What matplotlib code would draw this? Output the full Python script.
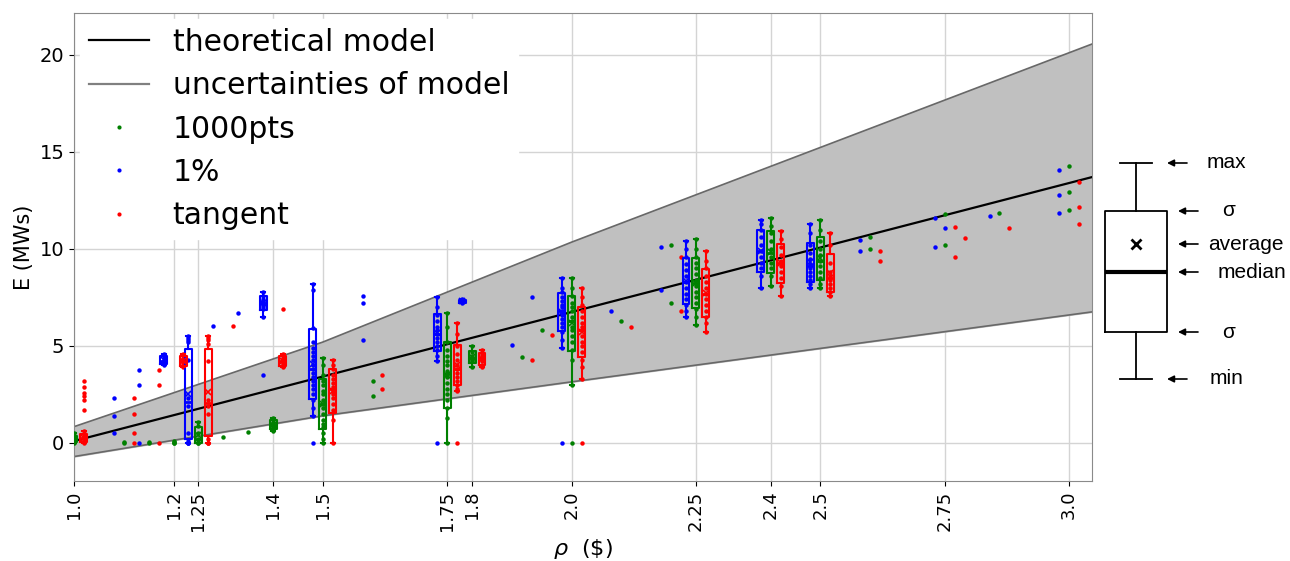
import numpy as np
import matplotlib.pyplot as plt
from matplotlib.lines import Line2D

# theoretical model and its uncertainty band
rho_model = [1.0, 3.05]
E_model = [0.1, 13.73]
rho_band = [1.0, 1.5, 2.0, 3.05]
E_upper = [0.84, 5.2, 10.35, 20.6]
E_lower = [-0.7, 1.4, 3.15, 6.77]

xtick_vals = [1.0, 1.2, 1.25, 1.4, 1.5, 1.75, 1.8, 2.0, 2.25, 2.4, 2.5, 2.75, 3.0]
xtick_labels = ['1.0', '1.2', '1.25', '1.4', '1.5', '1.75', '1.8', '2.0',
                '2.25', '2.4', '2.5', '2.75', '3.0']

# measured energies per rho, one dict per evaluation method
E_1000pts = {
    1.0: [0.5, 0.35, 0.2, 0.1, 0.05, 0.0],
    1.1: [0.05, 0.0],
    1.15: [0.05, 0.0],
    1.2: [0.1, 0.05, 0.0, 0.0],
    1.25: [1.1, 0.9, 0.5, 0.2, 0.1, 0.0, 0.0],
    1.3: [0.3],
    1.35: [0.55],
    1.4: [1.3, 1.1, 1.0, 0.9, 0.8, 0.6],
    1.5: [4.4, 4.0, 3.5, 3.2, 3.0, 2.7, 2.5, 2.2, 2.0, 1.8, 1.5, 1.2, 1.0, 0.8, 0.5, 0.2, 0.0],
    1.6: [3.2, 2.4],
    1.75: [6.7, 6.0, 5.2, 4.8, 4.5, 4.2, 4.0, 3.7, 3.4, 3.1, 2.8, 2.5, 2.2, 1.8, 1.3, 0.0],
    1.8: [5.0, 4.7, 4.5, 4.4, 4.3, 4.2, 3.9],
    1.9: [4.45],
    1.94: [5.8],
    2.0: [8.5, 8.0, 7.6, 7.2, 7.0, 6.8, 6.5, 6.3, 6.0, 5.8, 5.5, 5.2, 4.8, 4.3, 3.0],
    2.1: [6.3],
    2.2: [10.2, 7.2],
    2.25: [10.5, 10.0, 9.6, 9.3, 9.0, 8.7, 8.4, 8.1, 7.8, 7.5, 7.2, 6.9, 6.5, 6.1],
    2.4: [11.6, 11.2, 10.8, 10.4, 10.0, 9.6, 9.3, 9.0, 8.6, 8.1],
    2.5: [11.5, 11.0, 10.4, 10.0, 9.7, 9.4, 9.1, 8.8, 8.5, 8.2, 8.0],
    2.6: [10.6, 10.0],
    2.75: [11.8, 10.2],
    2.86: [11.87],
    3.0: [14.28, 12.92, 12.0],
}
E_1pct = {
    1.1: [2.3, 1.4, 0.5],
    1.15: [3.76, 3.0, 0.0],
    1.2: [4.6, 4.45, 4.3, 4.2, 4.1, 4.0],
    1.25: [5.5, 5.4, 5.3, 5.2, 4.3, 2.3, 1.9, 0.5, 0.1, 0.0, 0.0, 0.0],
    1.3: [6.05],
    1.35: [6.68],
    1.4: [7.8, 7.6, 7.4, 7.3, 7.2, 7.1, 7.0, 6.9, 6.5],
    1.5: [8.2, 7.9, 5.9, 5.2, 4.9, 4.7, 4.5, 4.3, 4.0, 3.8, 3.6, 3.4, 3.2, 3.0, 2.8, 2.5, 2.2, 1.8, 1.4],
    1.6: [7.6, 7.2, 5.3],
    1.75: [7.5, 7.0, 6.6, 6.3, 6.0, 5.8, 5.6, 5.4, 5.2, 5.0, 4.8, 4.5, 4.2],
    1.8: [7.4, 7.35, 7.3, 7.25, 7.2],
    1.9: [5.05],
    1.94: [7.5],
    2.0: [8.5, 8.0, 7.8, 7.5, 7.3, 7.1, 7.0, 6.8, 6.6, 6.4, 6.2, 6.0, 5.7, 5.3, 4.9],
    2.1: [6.8],
    2.2: [10.1, 7.9],
    2.25: [10.4, 10.0, 9.6, 9.2, 8.9, 8.6, 8.3, 8.0, 7.7, 7.4, 7.1, 6.8, 6.5],
    2.4: [11.5, 11.3, 11.0, 10.6, 10.2, 9.9, 9.6, 9.3, 9.0, 8.6, 8.0],
    2.5: [11.3, 10.8, 10.2, 9.8, 9.5, 9.2, 9.0, 8.8, 8.6, 8.4, 8.2, 8.0],
    2.6: [10.46, 9.9],
    2.75: [11.6, 10.1],
    2.77: [11.07],
    2.86: [11.7],
    3.0: [14.07, 12.78, 11.87],
}
E_tangent = {
    1.0: [0.6, 0.45, 0.35, 0.25, 0.15, 0.05, 0.0],
    1.1: [2.3, 1.5, 0.5, 0.0],
    1.15: [3.76, 3.0, 0.0],
    1.2: [4.6, 4.4, 4.3, 4.1, 4.0, 3.9],
    1.25: [5.5, 5.4, 5.3, 5.1, 4.2, 2.2, 1.9, 1.5, 0.2, 0.0, 0.0, 0.0],
    1.3: [6.05],
    1.4: [4.6, 4.4, 4.3, 4.1, 4.0, 3.9],
    1.5: [4.3, 4.0, 3.8, 3.5, 3.3, 3.1, 2.9, 2.7, 2.5, 2.3, 2.0, 1.7, 1.2, 0.0],
    1.6: [3.5, 2.8],
    1.75: [6.2, 5.6, 5.0, 4.6, 4.3, 4.0, 3.8, 3.6, 3.4, 3.2, 3.0, 2.8, 2.7],
    1.8: [4.8, 4.6, 4.5, 4.4, 4.2, 4.0, 3.9],
    1.9: [4.3],
    1.94: [5.55],
    2.0: [8.0, 7.5, 7.1, 6.8, 6.5, 6.2, 6.0, 5.8, 5.5, 5.2, 5.0, 4.7, 4.3, 3.9, 3.3],
    2.1: [6.0],
    2.2: [9.6, 6.8],
    2.25: [9.9, 9.4, 9.0, 8.6, 8.3, 8.0, 7.7, 7.4, 7.1, 6.8, 6.5, 6.2, 5.7],
    2.4: [10.9, 10.5, 10.1, 9.7, 9.4, 9.1, 8.8, 8.5, 8.1, 7.6],
    2.5: [10.8, 10.2, 9.3, 8.8, 8.6, 8.4, 8.2, 8.0, 7.8, 7.6],
    2.6: [9.9, 9.38],
    2.75: [11.15, 9.6],
    2.77: [10.55],
    2.86: [11.1],
    3.0: [13.47, 12.18, 11.27],
}
# off runs, plotted as dots only (not in the box statistics)
extra_1000pts = {2.0: [0.0]}
extra_1pct = {1.4: [3.5], 1.5: [0.0], 1.75: [0.0], 2.0: [0.0]}
extra_tangent = {1.0: [3.2, 2.9, 2.6, 2.4, 2.2, 1.7], 1.4: [6.9], 1.75: [0.0], 2.0: [0.0]}

methods = [
    ('1000pts', E_1000pts, extra_1000pts, 'g', 0.0),
    ('1%', E_1pct, extra_1pct, 'b', -0.02),
    ('tangent', E_tangent, extra_tangent, 'r', 0.02),
]


def box_stats(vals):
    v = np.asarray(vals, float)
    m, s = v.mean(), v.std()
    return dict(med=np.median(v), mean=m, q1=m - s, q3=m + s,
                whislo=v.min(), whishi=v.max(), fliers=[])


fig = plt.figure(figsize=(12.9, 5.61), dpi=100)
ax = fig.add_axes([74 / 1290, 80 / 561, 1018 / 1290, 468 / 561])

ax.fill_between(rho_band, E_lower, E_upper, color='#c0c0c0', zorder=1)
ax.plot(rho_band, E_upper, color='#686868', lw=1.2, zorder=2)
ax.plot(rho_band, E_lower, color='#686868', lw=1.2, zorder=2)
ax.plot(rho_model, E_model, color='black', lw=1.6, zorder=3)

for name, data, extra, c, dx in methods:
    for rho, vals in data.items():
        x = rho + dx
        ax.plot([x] * len(vals), vals, 'o', color=c, ms=3.2, mec='none', zorder=4)
        if len(vals) >= 5:
            ax.bxp([box_stats(vals)], positions=[x], widths=0.014, capwidths=0.008,
                   showmeans=True, manage_ticks=False,
                   boxprops=dict(color=c, lw=1.5), whiskerprops=dict(color=c, lw=1.5),
                   capprops=dict(color=c, lw=1.5), medianprops=dict(color=c, lw=2),
                   meanprops=dict(marker='x', mec=c, ms=5, mew=1.2), zorder=5)
    for rho, vals in extra.items():
        ax.plot([rho + dx] * len(vals), vals, 'o', color=c, ms=3.2, mec='none', zorder=4)

ax.set_xlim(1.0, 3.046)
ax.set_ylim(-1.96, 22.16)
ax.set_xticks(xtick_vals)
ax.set_xticklabels(xtick_labels, rotation=90, fontsize=13)
ax.set_yticks([0, 5, 10, 15, 20])
ax.tick_params(axis='y', labelsize=14)
ax.grid(color='#d4d4d4', lw=1)
ax.set_axisbelow(True)
for sp in ax.spines.values():
    sp.set_color('#8a8a8a')
ax.set_xlabel(r'$\rho$  (\$)', fontsize=16)
ax.set_ylabel('E (MWs)', fontsize=15)

handles = [
    Line2D([], [], color='black', lw=1.6),
    Line2D([], [], color='#808080', lw=1.6),
    Line2D([], [], ls='none', marker='o', ms=3, color='g', mec='none'),
    Line2D([], [], ls='none', marker='o', ms=3, color='b', mec='none'),
    Line2D([], [], ls='none', marker='o', ms=3, color='r', mec='none'),
]
labels = ['theoretical model', 'uncertainties of model', '1000pts', '1%', 'tangent']
leg = ax.legend(handles, labels, loc='upper left', fontsize=21.5, fancybox=False,
                framealpha=1, edgecolor='white', labelspacing=0.48,
                handletextpad=0.8, borderaxespad=0.2, borderpad=0.3)
leg.set_zorder(10)

# key explaining the box symbol
key = fig.add_axes([1100 / 1290, 166 / 561, 190 / 1290, 245 / 561])
key.set_xlim(0, 190)
key.set_ylim(-1.6, 22.9)
key.axis('off')
key_stats = dict(whislo=0.0, q1=4.7, med=10.7, mean=13.5, q3=16.8, whishi=21.6, fliers=[])
key.bxp([key_stats], positions=[36], widths=62, capwidths=32, showmeans=True,
        manage_ticks=False,
        boxprops=dict(color='black', lw=1.3), whiskerprops=dict(color='black', lw=1.3),
        capprops=dict(color='black', lw=1.3), medianprops=dict(color='black', lw=3),
        meanprops=dict(marker='x', mec='black', ms=7, mew=2))
key_labels = [('max', 21.6, 67, 107), ('σ', 16.8, 78, 122), ('average', 13.5, 78, 108),
              ('median', 10.7, 78, 118), ('σ', 4.7, 78, 122), ('min', 0.0, 67, 110)]
for txt, yv, xhead, xtxt in key_labels:
    key.annotate('', xy=(xhead, yv), xytext=(xhead + 20, yv),
                 arrowprops=dict(arrowstyle='-|>', color='black', lw=1.2,
                                 mutation_scale=10, shrinkA=0, shrinkB=0))
    key.text(xtxt, yv, txt, fontsize=15, family='Liberation Sans', va='center', ha='left')

fig.savefig('out.png', dpi=100)
